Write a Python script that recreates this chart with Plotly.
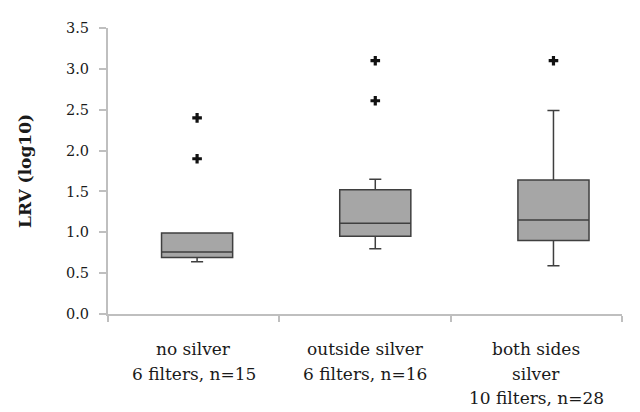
import plotly.graph_objects as go

categories = ["no silver<br>6 filters, n=15",
              "outside silver<br>6 filters, n=16",
              "both sides<br>silver<br>10 filters, n=28"]
q1 = [0.69, 0.95, 0.90]
median = [0.76, 1.11, 1.15]
q3 = [0.99, 1.52, 1.64]
lower_whisker = [0.64, 0.80, 0.59]
upper_whisker = [0.99, 1.65, 2.49]
outliers = [[2.40, 1.90], [3.10, 2.61], [3.10]]

# horizontal placement of boxes within the category slots (as in the original figure)
box_x = [0.52, 1.56, 2.60]
label_x = [0.5, 1.5, 2.5]

FONT = "DejaVu Serif"
TXT = "#1a1a1a"
fig = go.Figure()
fig.add_trace(go.Box(
    x=box_x, q1=q1, median=median, q3=q3,
    lowerfence=lower_whisker, upperfence=upper_whisker,
    width=0.415, whiskerwidth=0.17,
    fillcolor="#a6a6a6",
    line=dict(color="#3f3f3f", width=1.5),
    showlegend=False, hoverinfo="skip",
))
ox, oy = [], []
for xi, vals in zip(box_x, outliers):
    for v in vals:
        ox.append(xi)
        oy.append(v)
fig.add_trace(go.Scatter(
    x=ox, y=oy, mode="markers",
    marker=dict(symbol="cross", size=8, color="#111111", line=dict(width=0)),
    showlegend=False, hoverinfo="skip",
))

# category labels, one annotation per line to reproduce the wide line spacing
for xc, lab in zip(label_x, categories):
    for i, line in enumerate(lab.split("<br>")):
        fig.add_annotation(
            x=xc, xref="x", y=0, yref="paper", yanchor="middle",
            yshift=-(35 + 24.5 * i), text=line, showarrow=False,
            font=dict(family=FONT, size=17, color=TXT),
        )

fig.update_layout(
    width=640, height=412,
    margin=dict(l=100, r=26, t=16, b=106),
    plot_bgcolor="white", paper_bgcolor="white",
    font=dict(family=FONT, size=16, color=TXT),
)
fig.update_xaxes(
    range=[0, 3], tickmode="array", tickvals=[0, 1, 2, 3], showticklabels=False,
    ticks="outside", ticklen=6, tickcolor="#bfbfbf", tickwidth=2,
    showline=True, linecolor="#bfbfbf", linewidth=2,
    showgrid=False, zeroline=False,
)
fig.update_yaxes(
    range=[0, 3.5], dtick=0.5, tick0=0, tickformat=".1f",
    ticks="outside", ticklen=7, tickcolor="#bfbfbf", tickwidth=1.5,
    ticklabelstandoff=7,
    showline=True, linecolor="#bfbfbf", linewidth=2,
    showgrid=False, zeroline=False,
    tickfont=dict(family=FONT, size=14.5, color=TXT),
    title=dict(text="<b>LRV (log10)</b>", font=dict(family=FONT, size=17, color=TXT),
               standoff=30),
)
fig.write_html("out.html")
